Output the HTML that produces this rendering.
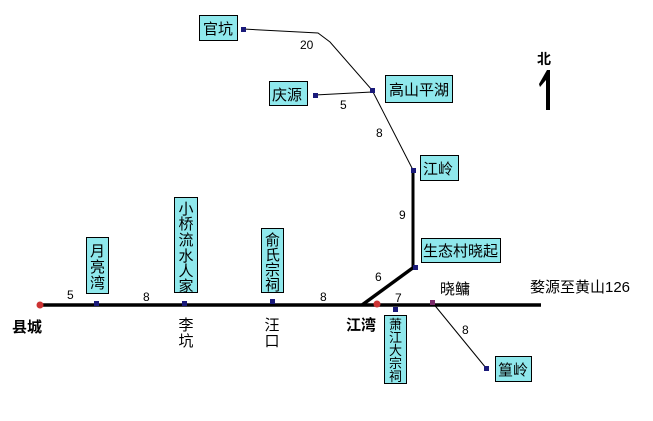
<!DOCTYPE html>
<html><head><meta charset="utf-8"><style>
html,body{margin:0;padding:0;background:#fff;width:653px;height:421px;overflow:hidden}
svg text{font-family:"Liberation Sans","Noto Sans CJK SC",sans-serif}
</style></head><body>
<svg width="653" height="421" xmlns="http://www.w3.org/2000/svg">
<g stroke="#000" fill="none">
<line x1="40" y1="305" x2="541" y2="305" stroke-width="3.5"/>
<line x1="362" y1="305" x2="414" y2="267" stroke-width="3.5"/>
<line x1="413" y1="268" x2="413" y2="170" stroke-width="3"/>
<polyline points="243,29 318,33 330,42 372,90 413,170" stroke-width="1"/>
<line x1="315" y1="95" x2="372" y2="92" stroke-width="1"/>
<line x1="432" y1="302" x2="486" y2="368" stroke-width="1"/>
</g>
<g fill="#1a1a7a">
<rect x="241" y="27" width="5" height="5"/><rect x="313" y="93" width="5" height="5"/>
<rect x="370" y="88" width="5" height="5"/><rect x="411" y="168" width="5" height="5"/>
<rect x="413" y="265" width="5" height="5"/><rect x="94" y="301" width="5" height="5"/>
<rect x="182" y="301" width="5" height="5"/><rect x="270" y="299" width="5" height="5"/>
<rect x="393" y="307" width="5" height="5"/><rect x="484" y="366" width="5" height="5"/>
<rect x="430" y="300" width="5" height="5" fill="#7a2a6a"/>
</g>
<circle cx="40" cy="305" r="3.5" fill="#c33"/><circle cx="377" cy="304" r="3.5" fill="#c33"/>
<g fill="#8fe8ec" stroke="#000" stroke-width="1">
<rect x="199.5" y="15.5" width="38" height="25"/>
<rect x="269.5" y="81.5" width="38" height="24"/>
<rect x="385.5" y="75.5" width="67" height="27"/>
<rect x="420.5" y="155.5" width="38" height="25"/>
<rect x="421.5" y="238.5" width="79" height="24"/>
<rect x="86.5" y="237.5" width="22" height="56"/>
<rect x="174.5" y="197.5" width="23" height="95"/>
<rect x="261.5" y="228.5" width="22" height="64"/>
<rect x="384.5" y="315.5" width="22" height="68"/>
<rect x="495.5" y="356.5" width="36" height="25"/>
</g>
<g font-size="15" fill="#000">
<text x="203" y="34">官坑</text>
<text x="272" y="100">庆源</text>
<text x="389" y="95">高山平湖</text>
<text x="423" y="174">江岭</text>
<text x="423" y="256">生态村晓起</text>
<text x="498" y="375">篁岭</text>
</g>
<g font-size="15" fill="#000" text-anchor="middle">
<text x="97.5" y="256">月</text><text x="97.5" y="272">亮</text><text x="97.5" y="288">湾</text>
<text x="186" y="214">小</text><text x="186" y="229">桥</text><text x="186" y="245">流</text><text x="186" y="261">水</text><text x="186" y="276">人</text><text x="186" y="291">家</text>
<text x="272.5" y="245">俞</text><text x="272.5" y="260">氏</text><text x="272.5" y="275">宗</text><text x="272.5" y="290">祠</text>
<text x="186" y="330">李</text><text x="186" y="346">坑</text>
<text x="272" y="330">汪</text><text x="272" y="346">口</text>
</g>
<g font-size="13" fill="#000" text-anchor="middle">
<text x="395.5" y="329">萧</text><text x="395.5" y="342">江</text><text x="395.5" y="355">大</text><text x="395.5" y="368">宗</text><text x="395.5" y="381">祠</text>
</g>
<g font-size="12" fill="#000">
<text x="300" y="49">20</text><text x="340" y="109">5</text><text x="376" y="137">8</text>
<text x="399" y="219">9</text><text x="375" y="281">6</text><text x="395" y="302">7</text>
<text x="462" y="334">8</text><text x="67" y="299">5</text><text x="143" y="301">8</text><text x="320" y="301">8</text>
</g>
<g font-size="15" fill="#000">
<text x="12" y="332" font-weight="bold">县城</text>
<text x="346" y="330" font-weight="bold">江湾</text>
<text x="440" y="294">晓鳙</text>
<text x="530" y="292">婺源至黄山126</text>
<text x="537" y="64" font-size="14" font-weight="bold">北</text>
</g>
<polygon points="547,70 550,70 550,110 546,110 546,80 540,87 539,84" fill="#000"/>
</svg>
</body></html>
